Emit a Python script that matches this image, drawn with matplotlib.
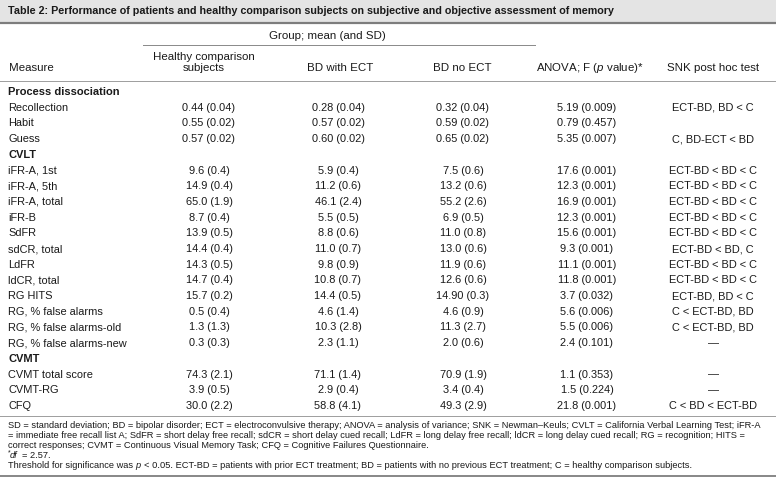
import matplotlib
matplotlib.use("Agg")
import matplotlib.pyplot as plt
from matplotlib.patches import Rectangle

plt.rcParams['font.family'] = ['Liberation Sans', 'DejaVu Sans']
plt.rcParams['mathtext.fontset'] = 'custom'
plt.rcParams['mathtext.rm'] = 'Liberation Sans'
plt.rcParams['mathtext.it'] = 'Liberation Sans:italic'
plt.rcParams['mathtext.bf'] = 'Liberation Sans:bold'

# ---------------- data ----------------
title = ("Table 2: Performance of patients and healthy comparison subjects on "
         "subjective and objective assessment of memory")
group_label = "Group; mean (and SD)"
header_measure = "Measure"
header_healthy = ["Healthy comparison", "subjects"]
header_bd_ect = "BD with ECT"
header_bd_no = "BD no ECT"
header_anova = "ANOVA; F ($p$ value)*"
header_snk = "SNK post hoc test"

sections = ["Process dissociation", "CVLT", "CVMT"]
measures = [
    ["Recollection", "Habit", "Guess"],
    ["iFR-A, 1st", "iFR-A, 5th", "iFR-A, total", "iFR-B", "SdFR", "sdCR, total",
     "LdFR", "ldCR, total", "RG HITS", "RG, % false alarms",
     "RG, % false alarms-old", "RG, % false alarms-new"],
    ["CVMT total score", "CVMT-RG", "CFQ"],
]
healthy = ["0.44 (0.04)", "0.55 (0.02)", "0.57 (0.02)",
           "9.6 (0.4)", "14.9 (0.4)", "65.0 (1.9)", "8.7 (0.4)", "13.9 (0.5)",
           "14.4 (0.4)", "14.3 (0.5)", "14.7 (0.4)", "15.7 (0.2)", "0.5 (0.4)",
           "1.3 (1.3)", "0.3 (0.3)",
           "74.3 (2.1)", "3.9 (0.5)", "30.0 (2.2)"]
bd_ect = ["0.28 (0.04)", "0.57 (0.02)", "0.60 (0.02)",
          "5.9 (0.4)", "11.2 (0.6)", "46.1 (2.4)", "5.5 (0.5)", "8.8 (0.6)",
          "11.0 (0.7)", "9.8 (0.9)", "10.8 (0.7)", "14.4 (0.5)", "4.6 (1.4)",
          "10.3 (2.8)", "2.3 (1.1)",
          "71.1 (1.4)", "2.9 (0.4)", "58.8 (4.1)"]
bd_no_ect = ["0.32 (0.04)", "0.59 (0.02)", "0.65 (0.02)",
             "7.5 (0.6)", "13.2 (0.6)", "55.2 (2.6)", "6.9 (0.5)", "11.0 (0.8)",
             "13.0 (0.6)", "11.9 (0.6)", "12.6 (0.6)", "14.90 (0.3)", "4.6 (0.9)",
             "11.3 (2.7)", "2.0 (0.6)",
             "70.9 (1.9)", "3.4 (0.4)", "49.3 (2.9)"]
anova = ["5.19 (0.009)", "0.79 (0.457)", "5.35 (0.007)",
         "17.6 (0.001)", "12.3 (0.001)", "16.9 (0.001)", "12.3 (0.001)", "15.6 (0.001)",
         "9.3 (0.001)", "11.1 (0.001)", "11.8 (0.001)", "3.7 (0.032)", "5.6 (0.006)",
         "5.5 (0.006)", "2.4 (0.101)",
         "1.1 (0.353)", "1.5 (0.224)", "21.8 (0.001)"]
snk = ["ECT-BD, BD < C", "", "C, BD-ECT < BD",
       "ECT-BD < BD < C", "ECT-BD < BD < C", "ECT-BD < BD < C", "ECT-BD < BD < C",
       "ECT-BD < BD < C", "ECT-BD < BD, C", "ECT-BD < BD < C", "ECT-BD < BD < C",
       "ECT-BD, BD < C", "C < ECT-BD, BD", "C < ECT-BD, BD", "\u2014",
       "\u2014", "\u2014", "C < BD < ECT-BD"]
# each footnote line is a list of (text, style) runs
footnotes = [
    [("SD = standard deviation; BD = bipolar disorder; ECT = electroconvulsive therapy; "
      "ANOVA = analysis of variance; SNK = Newman\u2013Keuls; CVLT = California Verbal "
      "Learning Test; iFR-A", "normal")],
    [("= immediate free recall list A; SdFR = short delay free recall; sdCR = short delay "
      "cued recall; LdFR = long delay free recall; ldCR = long delay cued recall; "
      "RG = recognition; HITS =", "normal")],
    [("correct responses; CVMT = Continuous Visual Memory Task; CFQ = Cognitive Failures "
      "Questionnaire.", "normal")],
    [("*", "sup"), ("df", "italic"), (" = 2.57.", "normal")],
    [("Threshold for significance was ", "normal"), ("p", "italic"),
     (" < 0.05. ECT-BD = patients with prior ECT treatment; BD = patients with no "
      "previous ECT treatment; C = healthy comparison subjects.", "normal")],
]

# ---------------- layout ----------------
W, H = 776, 479
fig = plt.figure(figsize=(W / 100, H / 100), dpi=100)
ax = fig.add_axes([0, 0, 1, 1])
ax.set_xlim(0, W)
ax.set_ylim(H, 0)
ax.axis('off')
renderer = fig.canvas.get_renderer()
TXT = '#1a1a1a'


def width_of(txt, size, **kw):
    t = ax.text(0, 0, txt, fontsize=size, **kw)
    w = t.get_window_extent(renderer).width
    t.remove()
    return w


def fit(txt, target, size=8.0, **kw):
    return size * target / width_of(txt, size, **kw)


def draw_runs(x, y, runs, size):
    space = width_of("a a", size) - width_of("aa", size)
    for txt, style in runs:
        kw = {}
        yy, fs = y, size
        pre, post = 0.0, 0.3
        if style == "italic":
            kw['style'] = 'italic'
            pre, post = -1.2, 1.6
        elif style == "sup":
            fs = size * 0.75
            yy = y - size * 0.35
        core = txt.strip()
        if txt.startswith(' '):
            x += space
        x += pre
        ax.text(x, yy, core, fontsize=fs, ha='left', va='center', color=TXT, **kw)
        x += width_of(core, fs, **kw) + post
        if txt.endswith(' '):
            x += space


title_fs = fit(title, 607, weight='bold')
head_fs = fit(header_healthy[0], 102)
body_fs = fit("RG, % false alarms-old", 114)
foot_fs = fit(footnotes[0][0][0], 756)

px = 0.72  # points per pixel

# title bar
ax.add_patch(Rectangle((0, 0), W, 21.5, facecolor='#e4e4e4', edgecolor='none'))
ax.plot([0, W], [22.6, 22.6], color='#7d7d7d', lw=2.2 * px, solid_capstyle='butt')
ax.text(8, 11, title, fontsize=title_fs, weight='bold', va='center', ha='left', color=TXT)

# header
x_meas = 8.5
x_cols = [209, 338, 463, 587, 713]
ax.text(327, 36, group_label, fontsize=head_fs, ha='center', va='center', color=TXT)
ax.plot([143, 535], [44.5, 44.5], color='#8c8c8c', lw=1.0 * px)
ax.text(204, 56.5, header_healthy[0], fontsize=head_fs, ha='center', va='center', color=TXT)
ax.text(204, 68, header_healthy[1], fontsize=head_fs, ha='center', va='center', color=TXT)
ax.text(x_meas, 68, header_measure, fontsize=head_fs, ha='left', va='center', color=TXT)
ax.text(340, 68, header_bd_ect, fontsize=head_fs, ha='center', va='center', color=TXT)
ax.text(462, 68, header_bd_no, fontsize=head_fs, ha='center', va='center', color=TXT)
ax.text(590, 68, header_anova, fontsize=head_fs, ha='center', va='center', color=TXT)
ax.text(713, 68, header_snk, fontsize=head_fs, ha='center', va='center', color=TXT)
ax.plot([0, W], [80.5, 80.5], color='#a0a0a0', lw=1.0 * px)

# body
y0, dy = 92, 15.7
row = 0
k = 0
columns = [healthy, bd_ect, bd_no_ect, anova, snk]
for sec, meas in zip(sections, measures):
    y = y0 + row * dy
    ax.text(x_meas, y, sec, fontsize=head_fs * 0.97, weight='bold', ha='left', va='center',
            color=TXT)
    row += 1
    for m in meas:
        y = y0 + row * dy
        ax.text(x_meas, y, m, fontsize=body_fs, ha='left', va='center', color=TXT)
        for xc, col in zip(x_cols, columns):
            ax.text(xc, y, col[k], fontsize=body_fs, ha='center', va='center', color=TXT)
        k += 1
        row += 1

# footnotes
ax.plot([0, W], [415.5, 415.5], color='#a0a0a0', lw=1.0 * px)
fy = [425.5, 435.5, 445.5, 455.5, 465.8]
for y, runs in zip(fy, footnotes):
    draw_runs(8, y, runs, foot_fs)
ax.plot([0, W], [476, 476], color='#8a8a8a', lw=2.0 * px, solid_capstyle='butt')

fig.savefig('out.png', dpi=100)
